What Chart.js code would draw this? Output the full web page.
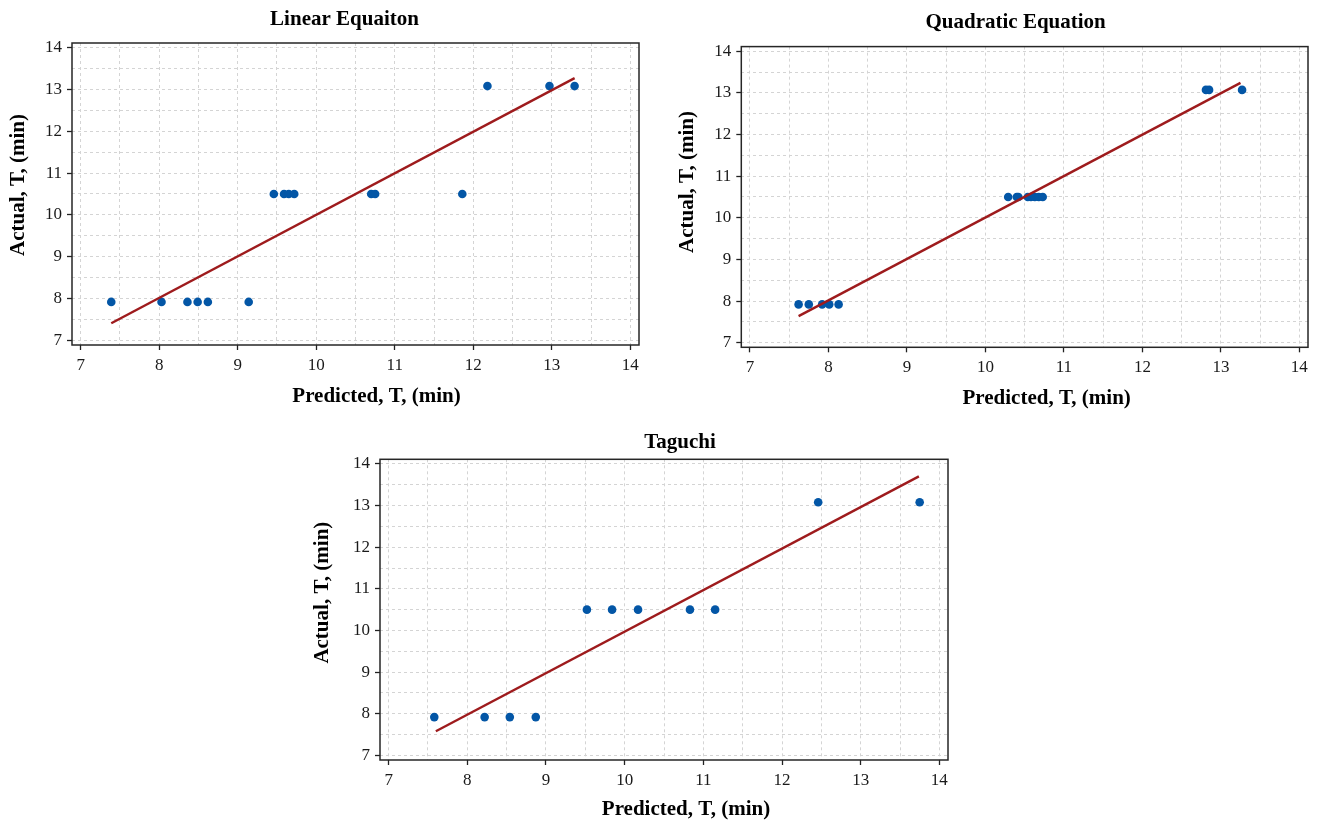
<!DOCTYPE html>
<html>
<head>
<meta charset="utf-8">
<title>Actual vs Predicted</title>
<script src="https://cdn.jsdelivr.net/npm/chart.js@4.4.0/dist/chart.umd.min.js"></script>
<style>
  body { margin: 0; background: #fff; width: 1320px; height: 824px; position: relative; overflow: hidden; }
  .panel { position: absolute; }
</style>
</head>
<body>
<div class="panel" style="left:0;top:0;width:660px;height:412px"><canvas id="linear-chart"></canvas></div>
<div class="panel" style="left:660px;top:0;width:660px;height:412px"><canvas id="quadratic-chart"></canvas></div>
<div class="panel" style="left:290px;top:412px;width:680px;height:412px"><canvas id="taguchi-chart"></canvas></div>
<script>
// axis ticks (shared by all three plots)
const tickValues = [7, 8, 9, 10, 11, 12, 13, 14];
const axisMin = 6.89;
const axisMax = 14.11;
const xTitle = "Predicted, T, (min)";
const yTitle = "Actual, T, (min)";

// Linear equation
const linearPredicted = [7.39, 8.03, 8.36, 8.49, 8.62, 9.14, 9.46, 9.59, 9.65, 9.72, 10.70, 10.75, 11.86, 12.18, 12.97, 13.29];
const linearActual = [7.92, 7.92, 7.92, 7.92, 7.92, 7.92, 10.5, 10.5, 10.5, 10.5, 10.5, 10.5, 10.5, 13.08, 13.08, 13.08];
const linearFitX = [7.39, 13.29];
const linearFitY = [7.41, 13.27];

// Quadratic equation
const quadPredicted = [7.62, 7.75, 7.92, 8.01, 8.13, 10.29, 10.40, 10.42, 10.54, 10.58, 10.63, 10.68, 10.73, 12.81, 12.85, 13.27];
const quadActual = [7.92, 7.92, 7.92, 7.92, 7.92, 10.5, 10.5, 10.5, 10.5, 10.5, 10.5, 10.5, 10.5, 13.07, 13.07, 13.07];
const quadFitX = [7.62, 13.25];
const quadFitY = [7.64, 13.24];

// Taguchi
const taguchiPredicted = [7.58, 8.22, 8.54, 8.87, 9.52, 9.84, 10.17, 10.83, 11.15, 12.46, 13.75];
const taguchiActual = [7.92, 7.92, 7.92, 7.92, 10.5, 10.5, 10.5, 10.5, 10.5, 13.08, 13.08];
const taguchiFitX = [7.60, 13.74];
const taguchiFitY = [7.58, 13.70];

// grid every half unit, labels only on whole numbers
const gridValues = [];
tickValues.forEach((v, i) => {
  gridValues.push(v);
  if (i < tickValues.length - 1) gridValues.push(v + 0.5);
});

const serif = '"Liberation Serif", "Times New Roman", serif';

function axisOptions(fit) {
  return {
    type: "linear",
    min: axisMin,
    max: axisMax,
    afterBuildTicks: s => { s.ticks = gridValues.map(v => ({ value: v })); },
    afterFit: fit,
    ticks: {
      padding: 5,
      autoSkip: false,
      maxRotation: 0,
      color: "#1a1a1a",
      font: { family: serif, size: 17 },
      callback: v => tickValues.includes(v) ? String(v) : ""
    },
    grid: {
      color: "#d4d4d4",
      lineWidth: 1,
      tickLength: 5,
      tickWidth: 1.3,
      tickColor: c => (c.tick && tickValues.includes(c.tick.value)) ? "#222" : "rgba(0,0,0,0)"
    },
    border: { display: false, dash: [3, 3] }
  };
}

// area = plot box inside the panel, t = offsets of the three titles
function makeChart(id, title, pred, actual, fitX, fitY, area, t) {
  const canvas = document.getElementById(id);
  const w = canvas.parentNode.clientWidth;
  const h = canvas.parentNode.clientHeight;

  const frame = {
    id: "frame",
    afterDraw(chart) {
      const { ctx, chartArea: a } = chart;
      const cx = (a.left + a.right) / 2, cy = (a.top + a.bottom) / 2;
      ctx.save();
      ctx.strokeStyle = "#262626";
      ctx.lineWidth = 1.5;
      ctx.strokeRect(a.left, a.top, a.right - a.left, a.bottom - a.top);
      ctx.fillStyle = "#000";
      ctx.font = "bold 21px " + serif;
      ctx.textAlign = "center";
      ctx.textBaseline = "middle";
      ctx.fillText(title, cx + t.titleDx, a.top + t.titleDy);
      ctx.fillText(xTitle, cx + t.xDx, a.bottom + t.xDy);
      ctx.translate(a.left + t.yDx, cy + t.yDy);
      ctx.rotate(-Math.PI / 2);
      ctx.fillText(yTitle, 0, 0);
      ctx.restore();
    }
  };

  return new Chart(canvas, {
    type: "scatter",
    data: {
      datasets: [
        {
          data: fitX.map((x, i) => ({ x: x, y: fitY[i] })),
          showLine: true,
          borderColor: "#9e1b1d",
          borderWidth: 2.4,
          pointRadius: 0,
          order: 0
        },
        {
          data: pred.map((x, i) => ({ x: x, y: actual[i] })),
          backgroundColor: "#0356a6",
          borderWidth: 0,
          pointRadius: 4.3,
          order: 1
        }
      ]
    },
    options: {
      responsive: true,
      maintainAspectRatio: false,
      animation: false,
      layout: { padding: { top: area.top, right: w - area.right, left: 0, bottom: 0 } },
      plugins: { legend: { display: false }, tooltip: { enabled: false } },
      scales: {
        x: axisOptions(s => { s.height = h - area.bottom; }),
        y: axisOptions(s => { s.width = area.left; })
      }
    },
    plugins: [frame]
  });
}

makeChart("linear-chart", "Linear Equaiton", linearPredicted, linearActual, linearFitX, linearFitY,
  { left: 72, top: 43, right: 639, bottom: 345 },
  { titleDx: -11, titleDy: -23, xDx: 21, xDy: 52, yDx: -53, yDy: -9 });

makeChart("quadratic-chart", "Quadratic Equation", quadPredicted, quadActual, quadFitX, quadFitY,
  { left: 81.3, top: 46.6, right: 648, bottom: 347.3 },
  { titleDx: -9, titleDy: -24, xDx: 22, xDy: 51, yDx: -54, yDy: -15 });

makeChart("taguchi-chart", "Taguchi", taguchiPredicted, taguchiActual, taguchiFitX, taguchiFitY,
  { left: 90, top: 47.3, right: 658, bottom: 348 },
  { titleDx: 16, titleDy: -17, xDx: 22, xDy: 50, yDx: -57, yDy: -17 });
</script>
</body>
</html>
